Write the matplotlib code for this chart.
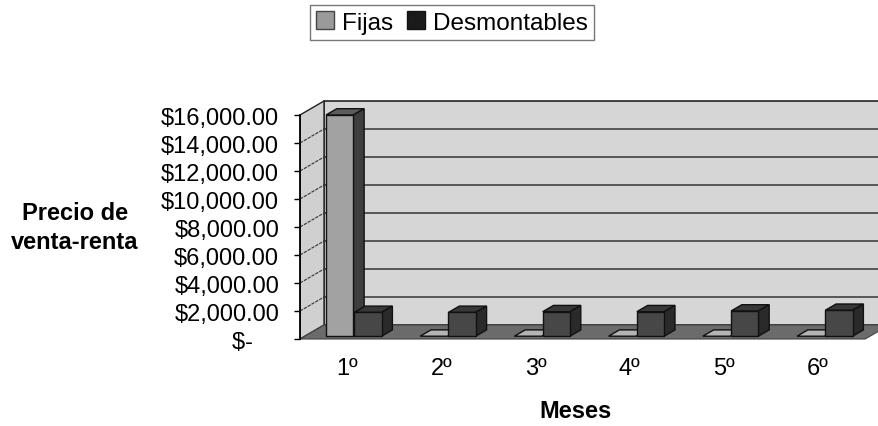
import numpy as np
import matplotlib.pyplot as plt
from matplotlib.patches import Polygon, Patch

plt.rcParams['font.family'] = ['Liberation Sans', 'DejaVu Sans']

# datos
meses = ['1º', '2º', '3º', '4º', '5º', '6º']
fijas = [15800, 0, 0, 0, 0, 0]
desmontables = [1700, 1700, 1750, 1750, 1800, 1850]
y_ticks = [0, 2000, 4000, 6000, 8000, 10000, 12000, 14000, 16000]
y_labels = ['$-    ', '$2,000.00', '$4,000.00', '$6,000.00', '$8,000.00',
            '$10,000.00', '$12,000.00', '$14,000.00', '$16,000.00']

# falso 3D: profundidad del piso en unidades de datos
DX, DY = 0.255, 1000
F0, F1 = 0.2, 0.65
W = 0.29
YMAX = y_ticks[-1]

fig = plt.figure(figsize=(8.79, 4.27), dpi=100)
ax = fig.add_axes([300 / 879, (427 - 341.5) / 427, 579 / 879, 246.5 / 427])
ax.set_xlim(-0.5, -0.5 + 579 / 94.2)
ax.set_ylim(-107, 17500)

n = len(meses)
x0, x1 = -0.5, n - 0.5

# pared del fondo, pared izquierda y piso
ax.add_patch(Polygon([(x0 + DX, DY), (x1 + DX, DY), (x1 + DX, YMAX + DY), (x0 + DX, YMAX + DY)],
                     closed=True, facecolor='#d6d6d6', edgecolor='#222222', lw=1.2, zorder=1))
ax.add_patch(Polygon([(x0, 0), (x0 + DX, DY), (x0 + DX, YMAX + DY), (x0, YMAX)],
                     closed=True, facecolor='#d0d0d0', edgecolor='#222222', lw=1.0, zorder=1))
for t in y_ticks[1:-1]:
    ax.plot([x0 + DX, x1 + DX], [t + DY, t + DY], color='#333333', lw=1.1, zorder=2)
    ax.plot([x0, x0 + DX], [t, t + DY], color='#333333', lw=0.8, ls=(0, (3, 1)), zorder=2)
ax.add_patch(Polygon([(x0, 0), (x1, 0), (x1 + DX, DY), (x0 + DX, DY)],
                     closed=True, facecolor='#6b6b6b', edgecolor='#444444', lw=0.8, zorder=3))

# colores: frente, lado, tapa
estilos = [
    (fijas, -0.275, ('#a2a2a2', '#3e3e3e', '#5c5c5c')),
    (desmontables, 0.025, ('#474747', '#2a2a2a', '#383838')),
]

x = np.arange(n)
z = 4
for i in range(n):
    for vals, off, (c_front, c_side, c_top) in estilos:
        v = vals[i]
        left = x[i] + off
        a0, b0 = F0 * DX, F0 * DY
        a1, b1 = F1 * DX, F1 * DY
        top_col = c_top if v > 0 else '#b4b4b4'
        ax.add_patch(Polygon([(left + a0, v + b0), (left + W + a0, v + b0),
                              (left + W + a1, v + b1), (left + a1, v + b1)],
                             closed=True, facecolor=top_col, edgecolor='#111111', lw=1.0, zorder=z))
        if v > 0:
            ax.add_patch(Polygon([(left + W + a0, b0), (left + W + a1, b1),
                                  (left + W + a1, v + b1), (left + W + a0, v + b0)],
                                 closed=True, facecolor=c_side, edgecolor='#111111', lw=1.0, zorder=z))
            ax.bar(left + a0, v, width=W, bottom=b0, align='edge', color=c_front,
                   edgecolor='#111111', lw=1.0, zorder=z + 0.5)
        z += 1

# ejes
for s in ['top', 'right', 'bottom']:
    ax.spines[s].set_visible(False)
ax.spines['left'].set_bounds(0, YMAX)
ax.spines['left'].set_linewidth(1.3)
ax.spines['left'].set_zorder(20)
ax.set_yticks(y_ticks)
ax.set_yticklabels(y_labels, fontsize=17)
ax.tick_params(axis='y', length=4, width=1, pad=11)
ax.set_xticks(x)
ax.set_xticklabels(meses, fontsize=17)
ax.tick_params(axis='x', length=0, pad=12)

fig.text(576 / 879, 1 - 412 / 427, 'Meses', fontsize=17, fontweight='bold', ha='center', va='center')
fig.text(75 / 879, 1 - 228 / 427, 'Precio de\nventa-renta', fontsize=17, fontweight='bold',
         ha='center', va='center', linespacing=1.35)

handles = [Patch(facecolor='#9a9a9a', edgecolor='#444444', label='Fijas'),
           Patch(facecolor='#1a1a1a', edgecolor='#111111', label='Desmontables')]
leg = fig.legend(handles=handles, loc='upper center', bbox_to_anchor=(0.514, 0.985), ncol=2,
                 fontsize=17.5, frameon=True, fancybox=False, handlelength=0.75, handleheight=0.75,
                 handletextpad=0.3, columnspacing=0.6, borderpad=0.25, borderaxespad=0)
leg.get_frame().set_edgecolor('#555555')
leg.get_frame().set_linewidth(1.0)

fig.savefig('out.png', dpi=100)
